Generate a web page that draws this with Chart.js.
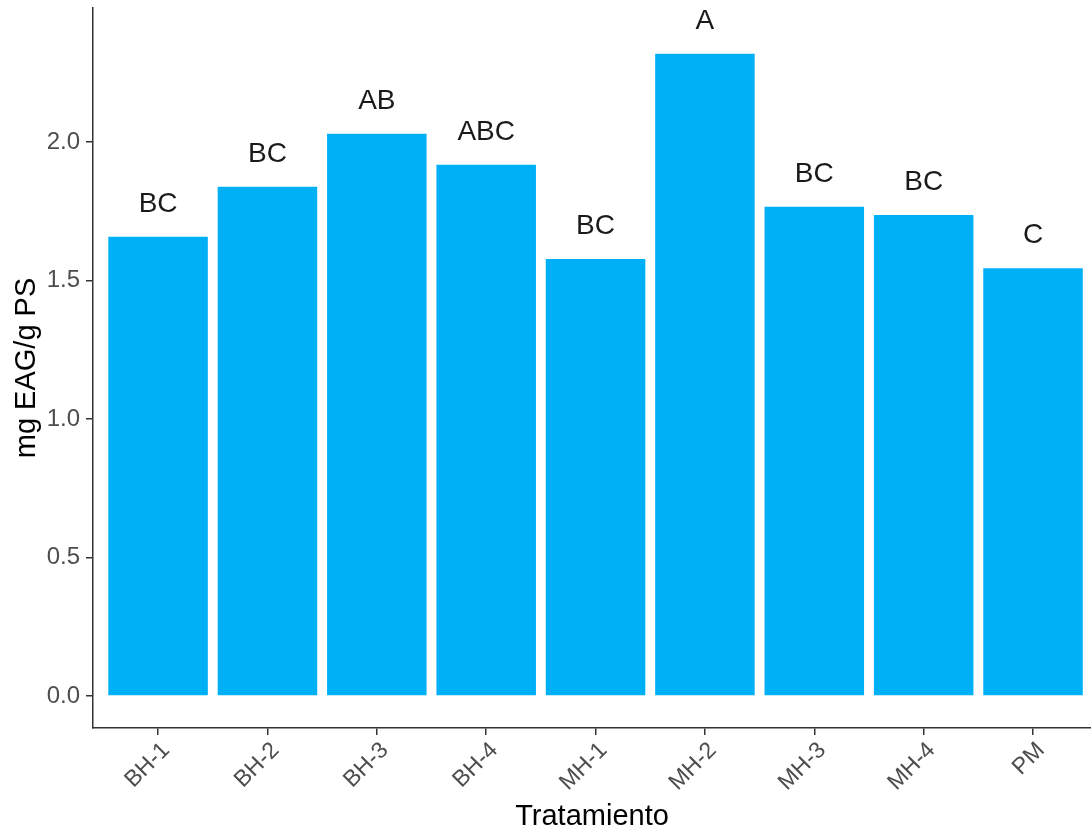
<!DOCTYPE html>
<html>
<head>
<meta charset="utf-8">
<script src="https://cdn.jsdelivr.net/npm/chart.js@4"></script>
<style>
  body { margin: 0; background: #fff; }
  #wrap { width: 1091px; height: 834px; }
</style>
</head>
<body>
<div id="wrap"><canvas id="chart1"></canvas></div>
<script>
// datos
var tratamientos = ['BH-1', 'BH-2', 'BH-3', 'BH-4', 'MH-1', 'MH-2', 'MH-3', 'MH-4', 'PM'];
var valores = [1.658, 1.839, 2.030, 1.918, 1.578, 2.319, 1.766, 1.737, 1.544];
var letras = ['BC', 'BC', 'AB', 'ABC', 'BC', 'A', 'BC', 'BC', 'C'];
var yTicks = [0, 0.5, 1.0, 1.5, 2.0];

var fontFam = '"Liberation Sans", Arial, sans-serif';

// letras de significancia encima de cada barra
var letrasPlugin = {
    id: 'letras',
    afterDatasetsDraw: function (chart) {
        var ctx = chart.ctx;
        var meta = chart.getDatasetMeta(0);
        ctx.save();
        ctx.fillStyle = '#1a1a1a';
        ctx.font = '28px ' + fontFam;
        ctx.textAlign = 'center';
        ctx.textBaseline = 'alphabetic';
        meta.data.forEach(function (bar, i) {
            ctx.fillText(letras[i], bar.x, bar.y - 25);
        });
        ctx.restore();
    }
};

var ctx1 = document.getElementById('chart1');
var chart = new Chart(ctx1, {
    type: 'bar',
    data: {
        datasets: [{
            data: valores.map(function (v, i) { return { x: i, y: v }; }),
            backgroundColor: '#00b0f6',
            borderWidth: 0,
            categoryPercentage: 1,
            barPercentage: 0.91
        }]
    },
    options: {
        responsive: true,
        maintainAspectRatio: false,
        animation: false,
        layout: { padding: { top: 8, right: 0, left: 0, bottom: 0 } },
        plugins: {
            legend: { display: false },
            tooltip: { enabled: false }
        },
        scales: {
            x: {
                type: 'linear',
                offset: false,
                min: -0.595,
                max: 8.53,
                afterBuildTicks: function (scale) {
                    scale.ticks = tratamientos.map(function (t, i) { return { value: i }; });
                },
                afterFit: function (scale) {
                    scale.height = 106;
                    scale.paddingLeft = 0;
                    scale.paddingRight = 0;
                },
                ticks: {
                    autoSkip: false,
                    minRotation: 45,
                    maxRotation: 45,
                    labelOffset: 8,
                    padding: 2,
                    color: '#4d4d4d',
                    font: { family: fontFam, size: 23 },
                    callback: function (v) { return tratamientos[v]; }
                },
                grid: { display: true, offset: false, drawOnChartArea: false, tickLength: 7, color: '#333', lineWidth: 1.5 },
                border: { display: true, color: '#333', width: 1.5 },
                title: {
                    display: true,
                    text: 'Tratamiento',
                    color: '#000',
                    font: { family: fontFam, size: 29 },
                    padding: { top: 0, bottom: 0 }
                }
            },
            y: {
                min: -0.1155,
                max: 2.484,
                afterBuildTicks: function (scale) {
                    scale.ticks = yTicks.map(function (v) { return { value: v }; });
                },
                afterFit: function (scale) {
                    scale.width = 93;
                    scale.paddingTop = 0;
                    scale.paddingBottom = 0;
                },
                ticks: {
                    padding: 6,
                    color: '#4d4d4d',
                    font: { family: fontFam, size: 24 },
                    callback: function (v) { return v.toFixed(1); }
                },
                grid: { display: true, drawOnChartArea: false, tickLength: 7, color: '#333', lineWidth: 1.5 },
                border: { display: true, color: '#333', width: 1.5 },
                title: {
                    display: true,
                    text: 'mg EAG/g PS',
                    color: '#000',
                    font: { family: fontFam, size: 29 },
                    padding: { top: 10, bottom: 0 }
                }
            }
        }
    },
    plugins: [letrasPlugin]
});
</script>
</body>
</html>
